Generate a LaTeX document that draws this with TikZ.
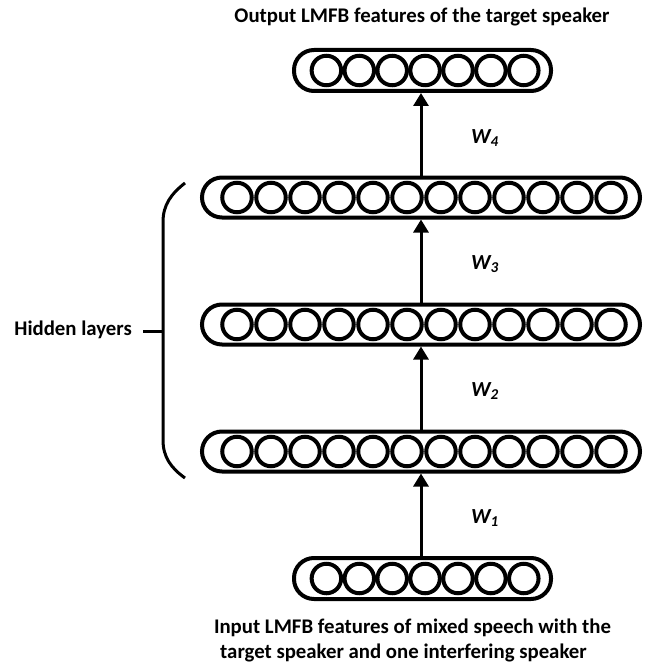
\documentclass[tikz,border=0pt]{standalone}
\usepackage{fontspec}
\setmainfont{Carlito}
\usetikzlibrary{arrows.meta}
\tikzset{
  layer/.style={draw, rectangle, rounded corners=20pt, line width=4pt, minimum height=40pt, inner sep=0pt},
  unit/.style={draw, circle, line width=4pt, minimum size=29.5pt, inner sep=0pt},
  conn/.style={line width=3pt, -{Triangle[length=13pt,width=15pt]}},
  lab/.style={font=\fontsize{20.8}{24}\selectfont\bfseries, inner sep=0pt},
  wlab/.style={font=\fontsize{21.5}{24}\selectfont\bfseries\itshape, inner sep=0pt},
  brace/.style={line width=3pt}
}
\newcommand{\units}[4]{% #1 first x, #2 spacing, #3 count-1, #4 y
  \foreach \k in {0,...,#3}{\node[unit] at ({#1+#2*\k},#4) {};}}
\begin{document}
\begin{tikzpicture}[x=1pt,y=-1pt]
\useasboundingbox (0,0) rectangle (646,663);
% layers
\node[layer, minimum width=257pt, minimum height=41pt] (L4) at (422.5,70.5) {};
\units{326.4}{32.9}{6}{70.5}
\node[layer, minimum width=438pt] (L3) at (421,197.5) {};
\units{237}{34}{11}{197.5}
\node[layer, minimum width=438pt] (L2) at (421,324.5) {};
\units{237}{34}{11}{324.5}
\node[layer, minimum width=438pt] (L1) at (421,451.5) {};
\units{237}{34}{11}{451.5}
\node[layer, minimum width=257pt, minimum height=41pt] (L0) at (422.5,578.5) {};
\units{326.4}{32.9}{6}{578.5}
% connectors
\coordinate (a0) at (421,557);
\coordinate (a1) at (421,430);
\coordinate (a2) at (421,303);
\coordinate (a3) at (421,176);
\draw[conn] (a0) -- (a0 |- L1.south);
\draw[conn] (a1) -- (a1 |- L2.south);
\draw[conn] (a2) -- (a2 |- L3.south);
\draw[conn] (a3) -- (a3 |- L4.south);
% weight labels
\node[wlab] (w1) at (485,518) {W\textsubscript{1}};
\node[wlab] (w2) at (485,391) {W\textsubscript{2}};
\node[wlab] (w3) at (485,264) {W\textsubscript{3}};
\node[wlab] (w4) at (485,138) {W\textsubscript{4}};
% brace
\draw[brace] (185,183) .. controls (171,194) and (163,205) .. (163,222) -- (163,440) .. controls (163,457) and (171,468) .. (185,478);
\coordinate (bm) at (163,331);
\node[lab, anchor=east] (hid) at (132,330) {Hidden layers};
\draw[brace] (143,331) -- (bm);
% titles
\node[lab] (out) at (422,17) {Output LMFB features of the target speaker};
\node[lab] (in1) at (412.5,628) {Input LMFB features of mixed speech with the};
\node[lab] (in2) at (403.5,652.5) {target speaker and one interfering speaker};
\end{tikzpicture}
\end{document}
